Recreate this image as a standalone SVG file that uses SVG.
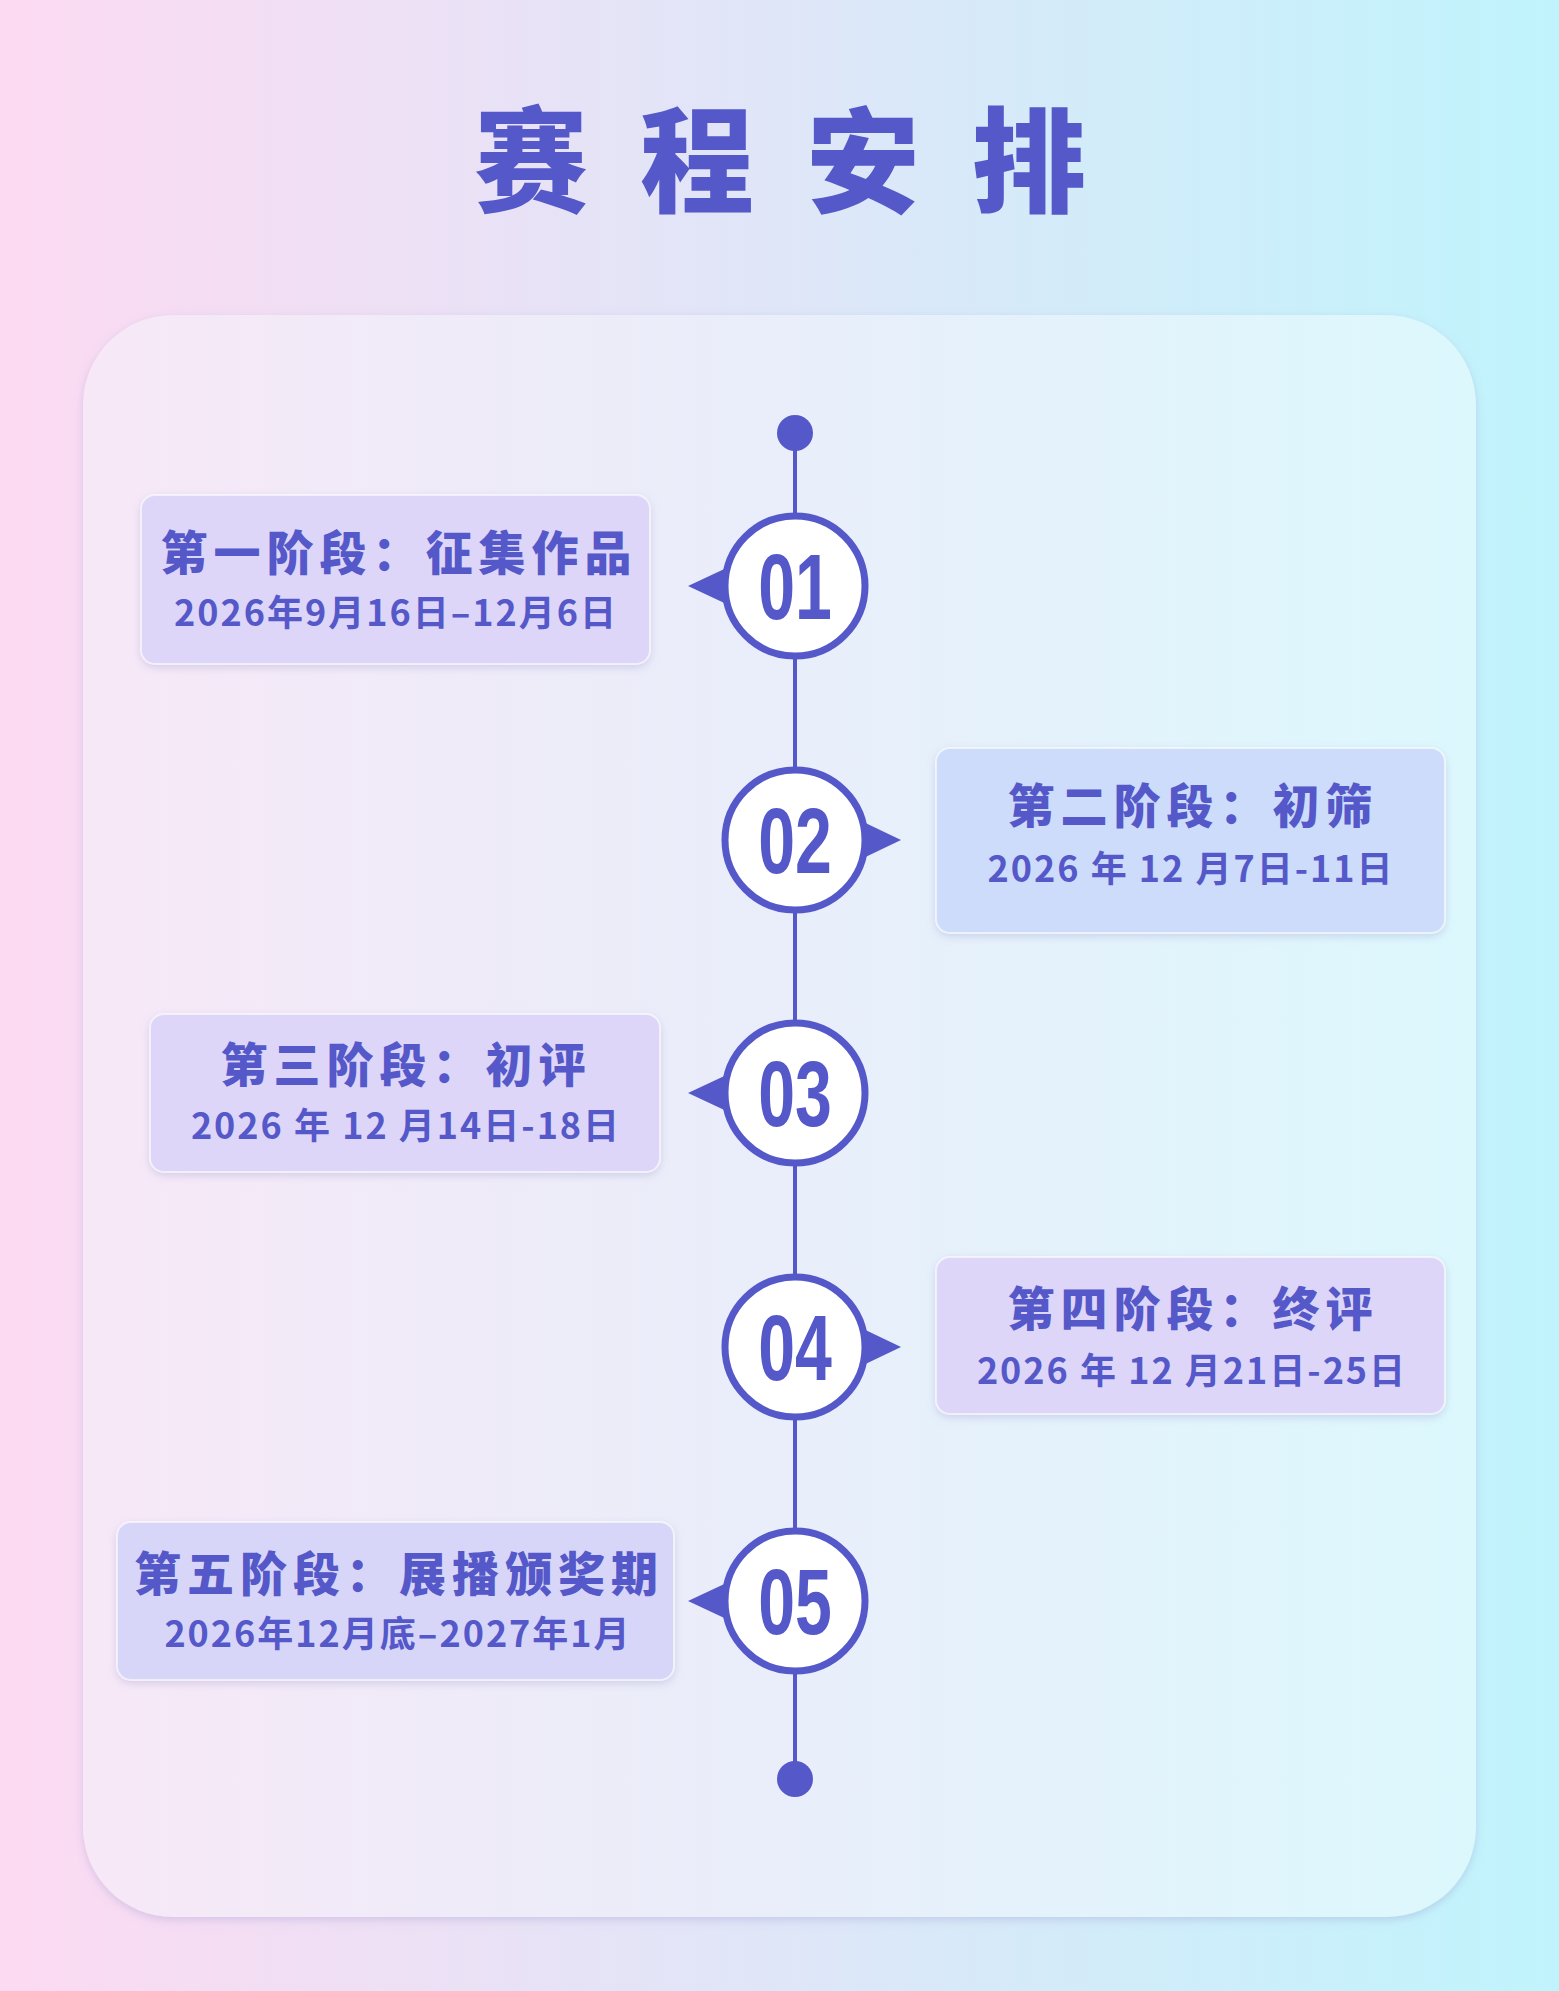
<svg xmlns="http://www.w3.org/2000/svg" width="1559" height="1991" viewBox="0 0 1559 1991">
<defs>
<linearGradient id="bg" x1="0" y1="0" x2="1" y2="0"><stop offset="0" stop-color="#fcdaf2"/><stop offset="0.5" stop-color="#dfe6f8"/><stop offset="1" stop-color="#c0f4fc"/></linearGradient>
<linearGradient id="card" x1="0" y1="0" x2="1" y2="0"><stop offset="0" stop-color="#f7e8f7"/><stop offset="0.5" stop-color="#e9eefa"/><stop offset="1" stop-color="#dcf8fd"/></linearGradient>
<filter id="sh" x="-10%" y="-10%" width="120%" height="130%"><feDropShadow dx="0" dy="3" stdDeviation="4" flood-color="#8a88c8" flood-opacity="0.3"/></filter>
<style>
.t1{font-family:"Noto Sans CJK SC",sans-serif;font-weight:900;font-size:47px;fill:#5558c8;text-anchor:middle;letter-spacing:6px}
.t2{font-family:"Noto Sans CJK SC",sans-serif;font-weight:700;font-size:36px;fill:#5558c8;text-anchor:middle;letter-spacing:2px}
.num{font-family:"Liberation Sans Narrow","Liberation Sans",sans-serif;font-weight:700;font-size:92px;fill:#5558c8;text-anchor:middle}
.ring{fill:#fff;stroke:#5558c8;stroke-width:7}
.box{stroke:#fff;stroke-opacity:0.6;stroke-width:2}
</style>
</defs>
<rect width="1559" height="1991" fill="url(#bg)"/>
<text x="806" y="203" font-family="Noto Sans CJK SC,sans-serif" font-weight="900" font-size="114" fill="#5558c8" text-anchor="middle" letter-spacing="52">赛程安排</text>
<rect x="83" y="315" width="1393" height="1602" rx="90" fill="url(#card)" filter="url(#sh)"/>
<g id="connectors">
<line x1="795" y1="433" x2="795" y2="1779" stroke="#5558c8" stroke-width="4"/>
<circle cx="795" cy="433" r="18" fill="#5558c8"/>
<circle cx="795" cy="1779" r="18" fill="#5558c8"/>
</g>
<g id="n1"><rect class="box" x="141" y="495" width="509" height="169" rx="14" fill="#ddd6f8" filter="url(#sh)"/>
<text class="t1" x="399" y="570">第一阶段：征集作品</text><text class="t2" x="396" y="626">2026年9月16日–12月6日</text>
<polygon points="688,586 735,564 735,608" fill="#5558c8"/><circle class="ring" cx="795" cy="586" r="70"/><text class="num" transform="translate(795,619) scale(0.72,1)">01</text></g>
<g id="n2"><rect class="box" x="936" y="748" width="509" height="185" rx="14" fill="#cddcfa" filter="url(#sh)"/>
<text class="t1" x="1193" y="823">第二阶段：初筛</text><text class="t2" x="1191" y="882">2026 年 12 月7日-11日</text>
<polygon points="901,840 855,818 855,862" fill="#5558c8"/><circle class="ring" cx="795" cy="840" r="70"/><text class="num" transform="translate(795,873) scale(0.72,1)">02</text></g>
<g id="n3"><rect class="box" x="150" y="1014" width="510" height="158" rx="14" fill="#ddd6f8" filter="url(#sh)"/>
<text class="t1" x="406" y="1082">第三阶段：初评</text><text class="t2" x="406" y="1139">2026 年 12 月14日-18日</text>
<polygon points="688,1093 735,1071 735,1115" fill="#5558c8"/><circle class="ring" cx="795" cy="1093" r="70"/><text class="num" transform="translate(795,1126) scale(0.72,1)">03</text></g>
<g id="n4"><rect class="box" x="936" y="1257" width="509" height="157" rx="14" fill="#ddd6f8" filter="url(#sh)"/>
<text class="t1" x="1193" y="1326">第四阶段：终评</text><text class="t2" x="1192" y="1384">2026 年 12 月21日-25日</text>
<polygon points="901,1347 855,1325 855,1369" fill="#5558c8"/><circle class="ring" cx="795" cy="1347" r="70"/><text class="num" transform="translate(795,1380) scale(0.72,1)">04</text></g>
<g id="n5"><rect class="box" x="117" y="1522" width="557" height="158" rx="14" fill="#d8d6f8" filter="url(#sh)"/>
<text class="t1" x="399" y="1591">第五阶段：展播颁奖期</text><text class="t2" x="398" y="1647">2026年12月底–2027年1月</text>
<polygon points="688,1601 735,1579 735,1623" fill="#5558c8"/><circle class="ring" cx="795" cy="1601" r="70"/><text class="num" transform="translate(795,1634) scale(0.72,1)">05</text></g>
</svg>
